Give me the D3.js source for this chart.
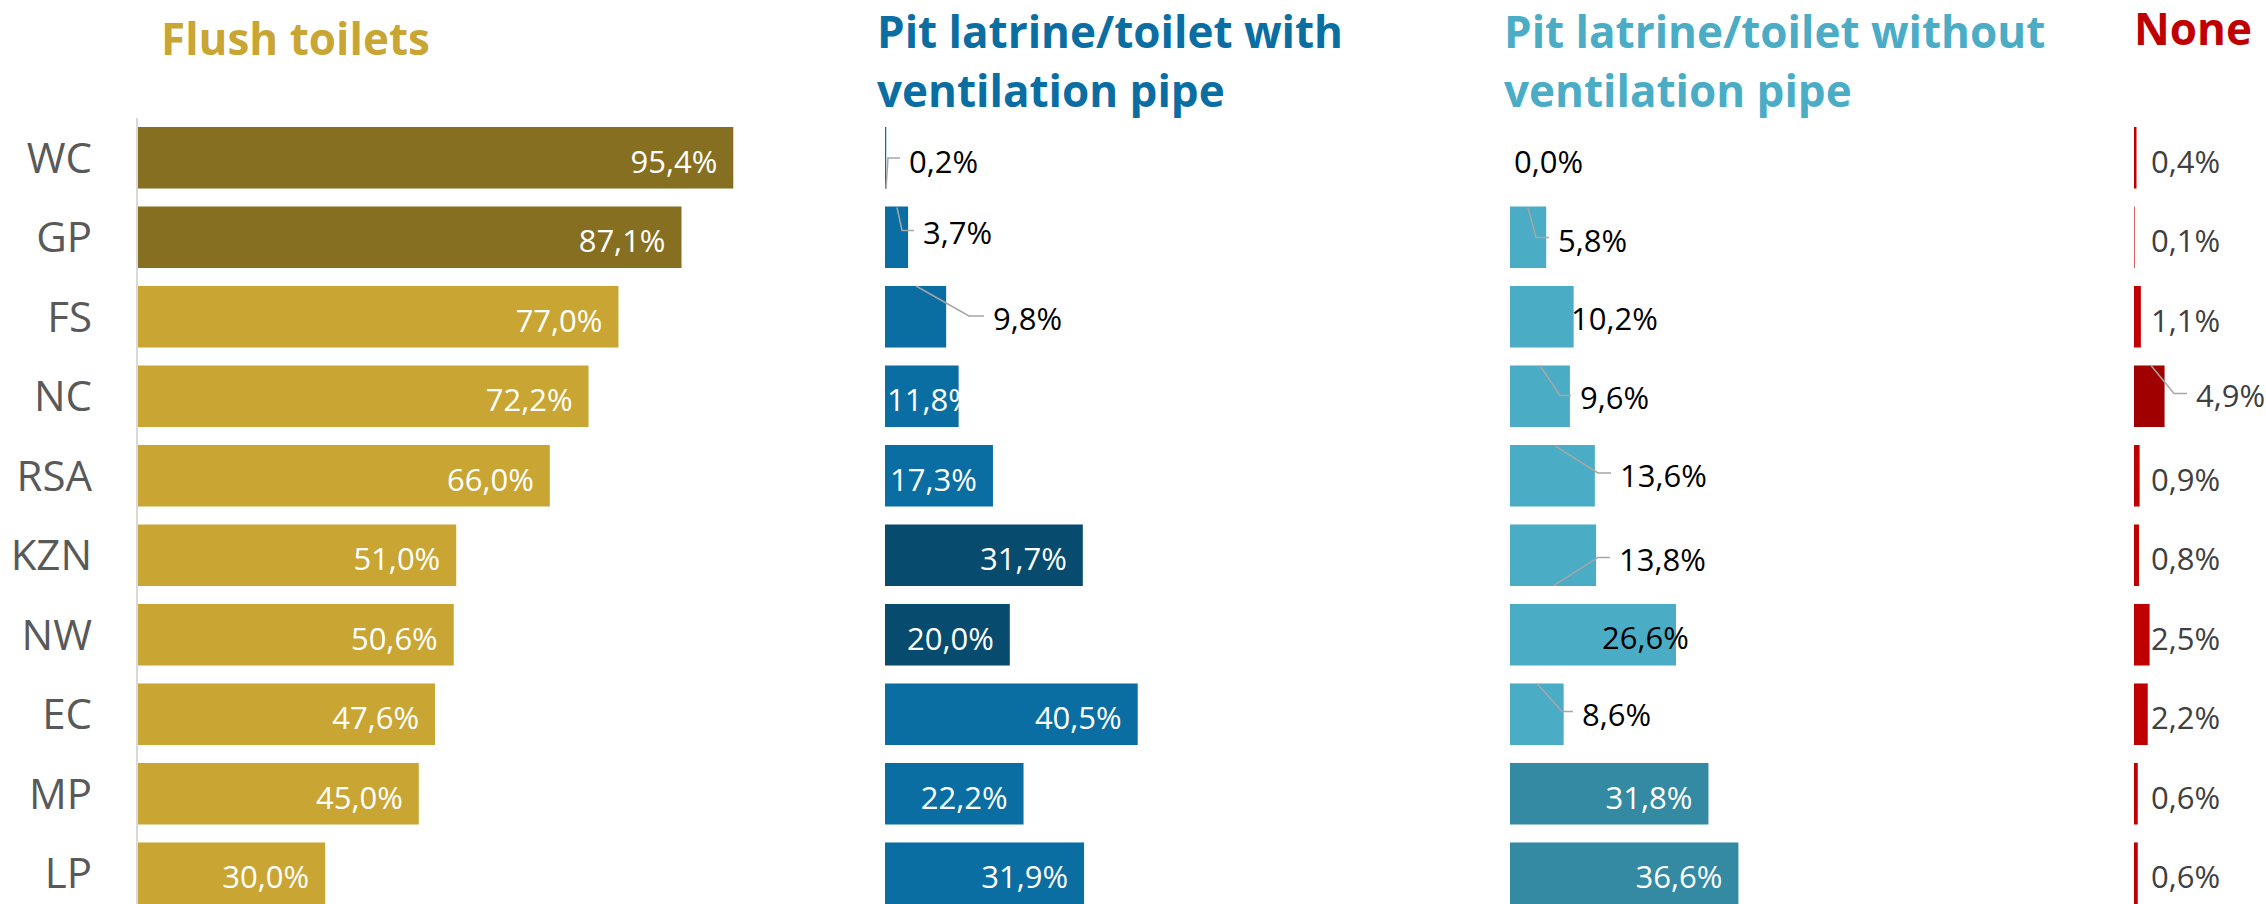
<!DOCTYPE html>
<html>
<head>
<meta charset="utf-8">
<script src="https://cdn.jsdelivr.net/npm/d3@7/dist/d3.min.js"></script>
<style>
    html, body { margin: 0; padding: 0; background: #fff; }
    #chart { width: 2266px; height: 904px; }
    svg { display: block; font-family: "Open Sans", "Noto Sans", sans-serif; }
</style>
</head>
<body>
<div id="chart"></div>
<script>
// Data (percent of households by toilet type, per province)
const provinces = ["WC", "GP", "FS", "NC", "RSA", "KZN", "NW", "EC", "MP", "LP"];
const flushToilets = [95.4, 87.1, 77.0, 72.2, 66.0, 51.0, 50.6, 47.6, 45.0, 30.0];
const pitWithPipe = [0.2, 3.7, 9.8, 11.8, 17.3, 31.7, 20.0, 40.5, 22.2, 31.9];
const pitWithoutPipe = [0.0, 5.8, 10.2, 9.6, 13.6, 13.8, 26.6, 8.6, 31.8, 36.6];
const noToilet = [0.4, 0.1, 1.1, 4.9, 0.9, 0.8, 2.5, 2.2, 0.6, 0.6];
const seriesTitles = [
    ["Flush toilets"],
    ["Pit latrine/toilet with", "ventilation pipe"],
    ["Pit latrine/toilet without", "ventilation pipe"],
    ["None"]
];
const highlighted = [["WC", "GP"], ["KZN", "NW"], ["MP", "LP"], ["NC"]];

// Layout / styling for each panel
const panels = [
    { values: flushToilets, x0: 138, titleX: 161, titleY: [55], color: "#C9A633", dark: "#866F21", labelMode: "inside" },
    { values: pitWithPipe, x0: 885, titleX: 877, titleY: [48, 107], color: "#0A6EA2", dark: "#074C6F", labelMode: "inside" },
    { values: pitWithoutPipe, x0: 1510, titleX: 1504, titleY: [48, 107], color: "#4BACC6", dark: "#3489A3", labelMode: "inside" },
    { values: noToilet, x0: 2134, titleX: 2134, titleY: [45], color: "#C00000", dark: "#A00000", labelMode: "outside" }
];

// Hand-placed data callouts (offsets from bar start / band top, px)
const callouts = [
    { panel: 1, cat: "WC", lx: 24, ly: 35, leader: [[1, 62], [3, 31]] },
    { panel: 1, cat: "GP", lx: 38, ly: 27, leader: [[12, 1], [17, 24]] },
    { panel: 1, cat: "FS", lx: 108, ly: 33, leader: [[31, 0], [84, 30]] },
    { panel: 2, cat: "WC", lx: 4, ly: 35 },
    { panel: 2, cat: "GP", lx: 48, ly: 35, leader: [[18, 1], [26, 31]] },
    { panel: 2, cat: "FS", lx: 61, ly: 33 },
    { panel: 2, cat: "NC", lx: 70, ly: 33, leader: [[30, 0], [50, 30]] },
    { panel: 2, cat: "RSA", lx: 110, ly: 31, leader: [[45, 1], [88, 28]] },
    { panel: 2, cat: "KZN", lx: 109, ly: 36, leader: [[44, 61], [88, 33]] },
    { panel: 2, cat: "NW", lx: 92, ly: 34 },
    { panel: 2, cat: "EC", lx: 72, ly: 32, leader: [[27, 0], [52, 28]] },
    { panel: 3, cat: "NC", lx: 62, ly: 31, leader: [[17, 0], [40, 28]] }
];

const fmt = v => d3.format(".1f")(v).replace(".", ",") + "%";

const width = 2266, height = 904;
const svg = d3.select("#chart").append("svg")
    .attr("width", width)
    .attr("height", height);

// Shared scales
const y = d3.scaleBand().domain(provinces).range([127, 904]).paddingInner(0.226).paddingOuter(0);
const x = d3.scaleLinear().domain([0, 100]).range([0, 624]);

// Category axis
const yAxis = svg.append("g")
    .attr("transform", `translate(${panels[0].x0 - 1},0)`)
    .call(d3.axisLeft(y).tickSize(0).tickPadding(45));
yAxis.select(".domain").remove();
yAxis.append("line")
    .attr("x1", 0).attr("x2", 0)
    .attr("y1", 118).attr("y2", height)
    .attr("stroke", "#D9D9D9")
    .attr("stroke-width", 2);
yAxis.selectAll(".tick text")
    .attr("fill", "#595959")
    .attr("dy", null)
    .attr("y", y.bandwidth() / 2 + 15 - y.bandwidth() / 2)
    .style("font-size", "42px")
    .style("font-family", "'Open Sans', sans-serif");
yAxis.selectAll(".tick").attr("transform", d => `translate(0,${y(d)})`);
yAxis.selectAll(".tick text").attr("y", 46);

panels.forEach((p, pi) => {
    const data = provinces.map((c, i) => ({ cat: c, value: p.values[i] }));
    const g = svg.append("g").attr("transform", `translate(${p.x0},0)`);

    // title
    const title = svg.append("text")
        .attr("x", p.titleX)
        .attr("fill", p.color)
        .style("font-size", "44px")
        .style("font-weight", "bold");
    seriesTitles[pi].forEach((line, li) => {
        title.append("tspan").attr("x", p.titleX).attr("y", p.titleY[li]).text(line);
    });

    // bars
    g.selectAll(".bar")
        .data(data)
        .enter()
        .append("rect")
        .attr("class", "bar")
        .attr("x", 0)
        .attr("y", d => y(d.cat))
        .attr("width", d => x(d.value))
        .attr("height", y.bandwidth())
        .attr("fill", d => highlighted[pi].includes(d.cat) ? p.dark : p.color);

    // labels
    data.forEach(d => {
        const top = y(d.cat);
        const co = callouts.find(c => c.panel === pi && c.cat === d.cat);
        if (co) {
            if (co.leader) {
                const pts = co.leader.map(q => [q[0], top + q[1]]);
                pts.push([co.lx - 9, top + co.leader[1][1]]);
                g.append("path")
                    .attr("d", d3.line()(pts))
                    .attr("fill", "none")
                    .attr("stroke", "#A6A6A6")
                    .attr("stroke-width", 1.5);
            }
            g.append("text")
                .attr("x", co.lx)
                .attr("y", top + co.ly + 11)
                .attr("fill", pi === 3 ? "#404040" : "#000")
                .style("font-size", "31px")
                .text(fmt(d.value));
            return;
        }
        if (p.labelMode === "outside") {
            g.append("text")
                .attr("x", 17)
                .attr("y", top + 46)
                .attr("fill", "#404040")
                .style("font-size", "31px")
                .text(fmt(d.value));
            return;
        }
        const t = g.append("text")
            .attr("y", top + 46)
            .attr("fill", "#fff")
            .style("font-size", "31px")
            .text(fmt(d.value));
        const w = t.node().getComputedTextLength();
        const xEnd = x(d.value) - 16;
        if (xEnd - w < 2) {
            t.attr("x", 2);
        } else {
            t.attr("x", xEnd).attr("text-anchor", "end");
        }
    });
});
</script>
</body>
</html>
